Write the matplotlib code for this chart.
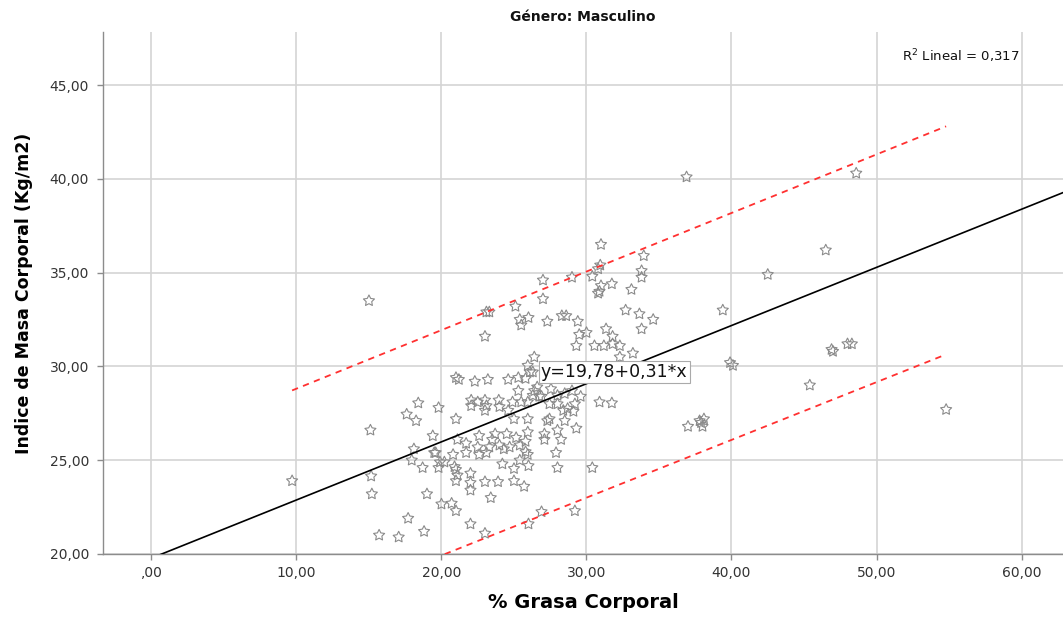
import matplotlib.pyplot as plt

# % Grasa Corporal (x) and Indice de Masa Corporal (y)
grasa = [
    9.7, 15.0, 15.1, 15.15, 15.2, 15.7, 17.05, 17.7, 18.8, 19.0,
    18.4, 17.6, 18.25, 19.8, 19.4, 18.1, 17.95, 18.7, 20.0, 20.7,
    21.0, 19.5, 19.9, 20.2, 19.8, 21.0, 21.0, 21.0, 21.0,
    21.2, 22.3, 23.2, 24.6, 25.3, 25.3, 22.05, 22.5, 23.0, 23.1,
    23.95, 24.0, 24.9, 25.5, 22.05, 23.0, 24.6, 25.0, 21.1, 21.7,
    22.6, 22.5, 23.5, 24.0, 24.5, 25.15, 25.4, 24.7, 23.3,
    19.6, 20.8, 21.7, 22.6, 23.1, 20.9, 21.1, 22.0, 22.0, 22.0,
    23.0, 23.9, 23.4, 24.2, 25.0, 25.0, 25.4, 22.0, 23.0,
    25.95, 27.9, 26.0, 28.0, 30.4, 25.7, 26.9, 26.0, 29.2,
    26.1, 26.4, 26.75, 27.45, 28.0, 27.1, 25.8, 25.8, 24.3, 23.7,
    29.3, 30.55, 31.2, 31.8, 32.3, 33.2, 32.3, 26.4, 25.95, 26.3,
    25.8, 26.6, 27.55, 28.0, 28.5, 29.0, 29.6, 30.9, 31.75, 25.95,
    26.3, 26.9, 27.45, 28.0, 28.4, 28.7, 29.2, 29.1, 25.95, 27.3,
    28.5, 29.3, 25.95, 27.1, 28.25,
    27.0, 27.0, 23.1, 23.3, 25.1, 25.4, 26.0, 25.5, 27.3, 28.3, 23.0,
    31.0, 33.95, 30.95, 30.8, 33.8, 33.8, 29.0, 30.4, 31.0, 31.75,
    30.9, 30.8, 33.1, 32.7, 33.65, 34.6, 33.8, 31.35, 28.6, 29.4,
    29.5, 30.0, 31.8,
    36.9, 48.6, 46.5, 42.5, 39.4, 39.9, 40.1, 46.9, 47.0, 48.0,
    48.3, 45.4, 54.8, 37.0, 37.8, 37.9, 38.1, 38.0,
]
imc = [
    23.9, 33.5, 26.6, 24.15, 23.2, 21.0, 20.9, 21.9, 21.2, 23.2,
    28.05, 27.45, 27.1, 27.8, 26.3, 25.6, 25.0, 24.6, 22.66, 22.7,
    22.3, 25.4, 24.9, 24.9, 24.6, 27.2, 29.4, 24.5, 23.9,
    29.3, 29.2, 29.3, 29.3, 29.4, 28.7, 28.2, 28.1, 28.2, 27.9,
    28.2, 27.85, 28.1, 28.1, 27.9, 27.65, 27.65, 27.2, 26.1, 25.9,
    26.3, 25.7, 26.1, 25.8, 26.4, 26.2, 25.8, 25.7, 25.7,
    25.4, 25.3, 25.4, 25.3, 25.4, 24.65, 24.2, 24.3, 23.8, 23.4,
    23.85, 23.85, 23.0, 24.8, 24.55, 23.9, 25.0, 21.6, 21.1,
    25.3, 25.4, 24.7, 24.6, 24.6, 23.6, 22.25, 21.6, 22.3,
    29.7, 28.7, 28.4, 27.2, 26.6, 26.4, 26.0, 25.45, 25.6, 26.4,
    31.1, 31.1, 31.1, 31.2, 31.1, 30.7, 30.5, 30.5, 30.05, 29.7,
    29.35, 28.9, 28.8, 28.45, 28.55, 28.7, 28.4, 28.1, 28.05, 28.1,
    28.45, 28.4, 28.0, 28.0, 27.65, 27.75, 28.0, 27.6, 27.2, 27.1,
    27.1, 26.7, 26.5, 26.1, 26.1,
    34.6, 33.6, 32.9, 32.9, 33.2, 32.5, 32.6, 32.2, 32.4, 32.7, 31.6,
    36.5, 35.9, 35.4, 35.2, 35.1, 34.75, 34.75, 34.8, 34.3, 34.4,
    34.0, 33.9, 34.1, 33.0, 32.8, 32.5, 32.0, 32.0, 32.7, 32.4,
    31.7, 31.8, 31.6,
    40.1, 40.3, 36.2, 34.9, 33.0, 30.2, 30.05, 30.9, 30.8, 31.2,
    31.2, 29.0, 27.7, 26.8, 27.1, 27.0, 27.2, 26.8,
]

# fit line and 95% prediction band as reported on the chart
intercept = 19.78
slope = 0.31
r2_text = "0,317"
band_x = [9.7, 54.8]
band_upper = [28.72, 42.8]
band_lower = [16.75, 30.64]

xticks = [0, 10, 20, 30, 40, 50, 60]
xticklabels = [",00", "10,00", "20,00", "30,00", "40,00", "50,00", "60,00"]
yticks = [20, 25, 30, 35, 40, 45]
yticklabels = ["20,00", "25,00", "30,00", "35,00", "40,00", "45,00"]

fig = plt.figure(figsize=(10.63, 6.21), dpi=100)
ax = fig.add_axes([0.0969, 0.1079, 0.9031, 0.8406])

xmin, xmax = -3.34, 62.86
ax.set_xlim(xmin, xmax)
ax.set_ylim(20, 47.83)

ax.set_xticks(xticks)
ax.set_xticklabels(xticklabels)
ax.set_yticks(yticks)
ax.set_yticklabels(yticklabels)
ax.grid(True, color='#d4d4d4', linewidth=1.2)
ax.set_axisbelow(True)

for s in ['top', 'right']:
    ax.spines[s].set_visible(False)
for s in ['left', 'bottom']:
    ax.spines[s].set_color('#8c8c8c')
    ax.spines[s].set_linewidth(1.0)
ax.tick_params(axis='both', colors='#8c8c8c', labelcolor='#333333',
               labelsize=10, length=4, width=1)
ax.tick_params(axis='y', pad=6)
ax.tick_params(axis='x', pad=5)

# points
ax.scatter(grasa, imc, marker=(5, 1, 0), s=70, facecolors='none',
           edgecolors='#8a8a8a', linewidths=0.8, zorder=3)

# regression line across the whole x range
ax.plot([xmin, xmax], [intercept + slope * xmin, intercept + slope * xmax],
        color='black', linewidth=1.2, zorder=4)

# prediction band
ax.plot(band_x, band_upper, color='#ff3030', linestyle=(0, (3.5, 3)),
        linewidth=1.3, zorder=4)
ax.plot(band_x, band_lower, color='#ff3030', linestyle=(0, (3.5, 3)),
        linewidth=1.3, zorder=4)

ax.text(26.85, 29.72, "y=19,78+0,31*x", fontsize=12.5, va='center', ha='left',
        color='#111111', zorder=5,
        bbox=dict(boxstyle='square,pad=0.12', facecolor='white',
                  edgecolor='#aaaaaa', linewidth=0.8))

ax.text(0.955, 0.953, r"R$^2$ Lineal = " + r2_text, transform=ax.transAxes,
        fontsize=9.5, ha='right', va='center', color='#111111')

fig.text(0.548, 0.972, "Género: Masculino", fontsize=10, fontweight='bold',
         ha='center', va='center', color='#111111')

ax.set_xlabel("% Grasa Corporal", fontsize=14, fontweight='bold', labelpad=9)
ax.set_ylabel("Indice de Masa Corporal (Kg/m2)", fontsize=12.5,
              fontweight='bold', labelpad=12)

fig.savefig("out.png", dpi=100)
